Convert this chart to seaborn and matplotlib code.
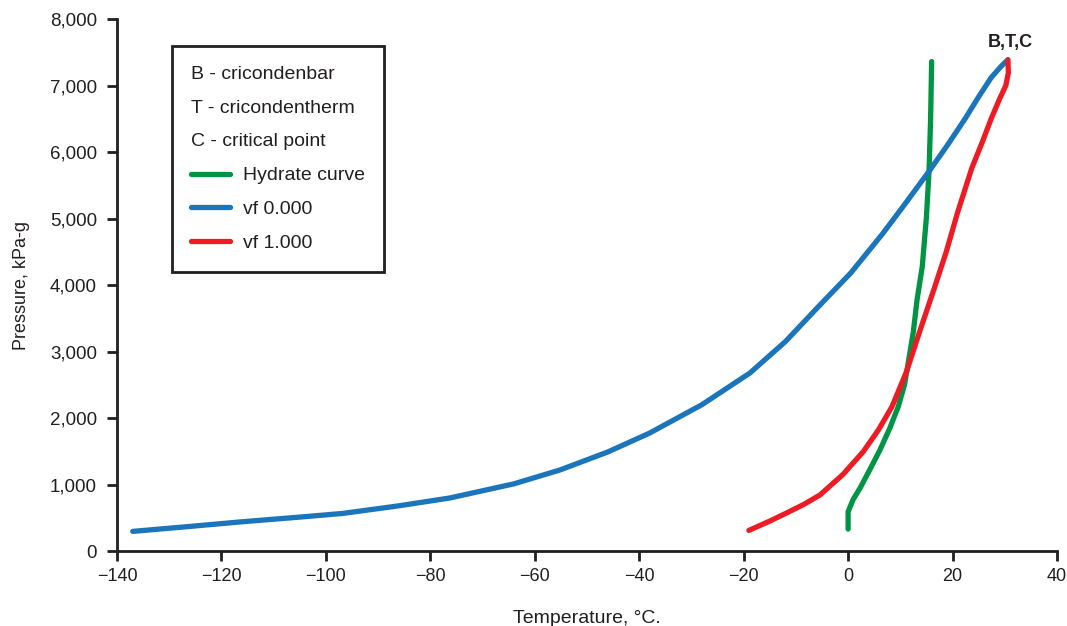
import pandas as pd
import matplotlib.pyplot as plt
import seaborn as sns
from matplotlib.ticker import FuncFormatter

# Phase envelope values
hydrate_T = [0.0, 0.0, 1.0, 2.3, 4.2, 6.1, 8.0, 9.6, 10.8, 11.6, 12.5, 13.2, 14.2, 15.0, 15.5, 15.8, 16.0]
hydrate_P = [330, 590, 780, 947, 1230, 1519, 1850, 2170, 2500, 2872, 3300, 3774, 4276, 5023, 5710, 6500, 7360]

vf0_T = [-137, -126, -116, -105, -96.8, -86, -76.3, -64, -55.2, -46, -38, -28, -18.8, -12,
         -5.7, 0.5, 6.6, 11, 15.5, 19, 22.4, 25, 27.4, 29.2, 30.6]
vf0_P = [295, 370, 440, 510, 565, 680, 797, 1010, 1218, 1490, 1774, 2200, 2677, 3150,
         3674, 4180, 4770, 5230, 5710, 6100, 6500, 6830, 7119, 7280, 7390]

vf1_T = [-19, -15, -11.8, -8.5, -5.4, -1, 2.9, 5.8, 8.4, 11.2, 13.8, 16.5, 18.8, 21.0,
         23.7, 25.7, 27.4, 29.0, 30.2, 30.7, 30.6]
vf1_P = [310, 450, 571, 700, 842, 1150, 1494, 1820, 2170, 2700, 3323, 3950, 4500, 5100,
         5760, 6150, 6500, 6797, 7000, 7194, 7380]

legend_notes = ["B - cricondenbar", "T - cricondentherm", "C - critical point"]

sns.set_theme(style="white")
plt.rcParams["font.family"] = ["Liberation Sans", "DejaVu Sans"]
ink = "#231f20"

curves = [
    ("Hydrate curve", hydrate_T, hydrate_P, "#009444"),
    ("vf 0.000", vf0_T, vf0_P, "#1b75bb"),
    ("vf 1.000", vf1_T, vf1_P, "#ed1c24"),
]

fig = plt.figure(figsize=(10.67, 6.26), dpi=100)
ax = fig.add_axes([0.1097, 0.1198, 0.8809, 0.8498])

for name, t, p, col in curves:
    df = pd.DataFrame({"T": t, "P": p})
    sns.lineplot(data=df, x="T", y="P", sort=False, estimator=None, ax=ax,
                 color=col, linewidth=3.8, label=name, solid_capstyle="round",
                 solid_joinstyle="round")

ax.text(31, 7520, "B,T,C", ha="center", va="bottom", fontsize=13,
        fontweight="bold", color=ink)

ax.set_xlim(-140, 40)
ax.set_ylim(0, 8000)
ax.set_xticks(range(-140, 41, 20))
ax.set_yticks(range(0, 8001, 1000))
ax.yaxis.set_major_formatter(FuncFormatter(lambda v, _: f"{int(v):,}"))

for s in ["top", "right"]:
    ax.spines[s].set_visible(False)
for s in ["left", "bottom"]:
    ax.spines[s].set_linewidth(2)
    ax.spines[s].set_color(ink)
ax.tick_params(axis="both", direction="out", length=7.5, width=2, color=ink,
               labelcolor=ink, bottom=True, left=True)
ax.tick_params(axis="y", labelsize=13.5, pad=7)
ax.tick_params(axis="x", labelsize=13, pad=5)

ax.set_xlabel("Temperature, °C.", fontsize=14, color=ink, labelpad=18)
ax.set_ylabel("Pressure, kPa-g", fontsize=13, color=ink, labelpad=14)

leg = ax.legend(loc="upper left", bbox_to_anchor=(0.0585, 0.949), borderaxespad=0,
                title="\n".join(legend_notes), alignment="left", fontsize=14,
                title_fontsize=14, frameon=True, fancybox=False,
                handlelength=2.0, handletextpad=0.65, labelspacing=0.84,
                borderpad=1.0)
leg.get_title().set_linespacing(2.3)
leg.get_title().set_color(ink)
for txt in leg.get_texts():
    txt.set_color(ink)
frame = leg.get_frame()
frame.set_edgecolor(ink)
frame.set_linewidth(2)
frame.set_alpha(1)

fig.savefig("out.png", dpi=100)
